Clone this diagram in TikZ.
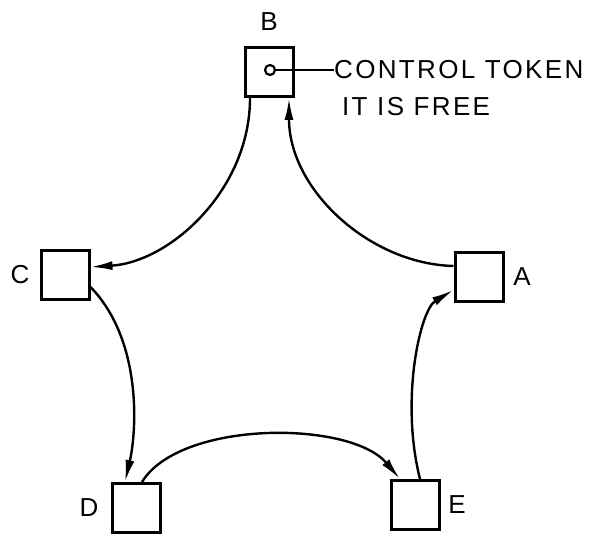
\documentclass[tikz,border=0pt]{standalone}
\usepackage{fontspec}
\setmainfont{Liberation Sans}
\usetikzlibrary{arrows.meta}
\begin{document}
\begin{tikzpicture}[x=1pt,y=-1pt,
  station/.style={draw, line width=3pt, minimum width=48pt, minimum height=49pt, inner sep=0pt},
  lbl/.style={font=\fontsize{26}{26}\selectfont, inner sep=0pt},
  note/.style={font=\fontsize{26}{26}\selectfont\addfontfeature{LetterSpace=9}, inner sep=0pt, anchor=west},
  ring/.style={line width=2.4pt, -{Latex[length=22pt,width=9pt]}}]
\useasboundingbox (0,0) rectangle (598,534);

% stations on the ring
\node[station] (B) at (269,72) {};
\node[station] (C) at (65,275) {};
\node[station] (A) at (479,277) {};
\node[station] (D) at (136,508) {};
\node[station] (E) at (415,505) {};

% station letters
\node[lbl] (lB) at (269,22) {B};
\node[lbl] (lC) at (20,275) {C};
\node[lbl] (lA) at (522,277) {A};
\node[lbl] (lD) at (89,508) {D};
\node[lbl] (lE) at (457,505) {E};

% token held by station B
\node[circle, draw, line width=2.2pt, minimum size=10pt, inner sep=0pt] (tok) at (270,70) {};
\node[note] (ctl) at (334,70) {CONTROL TOKEN};
\node[note] (free) at (342,107) {IT IS FREE};
\draw[line width=2pt] (tok.east) -- (ctl.west);

% token passing around the ring
\draw[ring] ([yshift=11pt]A.west) .. controls (370,264) and (289,190) .. ([xshift=20pt]B.south);
\draw[ring] ([xshift=-19pt]B.south) .. controls (250,190) and (170,262) .. ([yshift=8pt]C.east);
\draw[ring] ([yshift=-12pt]C.east) .. controls (142,340) and (137,430) .. ([xshift=-11pt]D.north);
\draw[ring] ([xshift=6pt]D.north) .. controls (180,420) and (350,420) .. ([xshift=-15pt]E.north);
\draw[ring] ([xshift=5pt]E.north) .. controls (400,400) and (420,310) .. ([yshift=-13pt]A.west);
\end{tikzpicture}
\end{document}
